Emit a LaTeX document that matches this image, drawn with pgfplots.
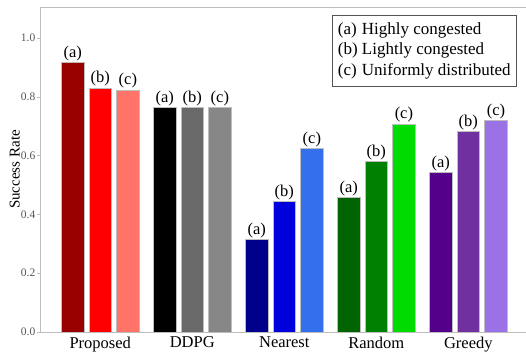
\documentclass[border=0pt]{standalone}
\usepackage{fontspec}
\setmainfont{Liberation Serif}
\usepackage{pgfplots}
\pgfplotsset{compat=1.18}

% bar fills: one shade family per method, (a)/(b)/(c) scenarios
\definecolor{pa}{HTML}{990000}
\definecolor{pb}{HTML}{FF0000}
\definecolor{pc}{HTML}{FF7369}
\definecolor{da}{HTML}{000000}
\definecolor{db}{HTML}{696969}
\definecolor{dc}{HTML}{878787}
\definecolor{na}{HTML}{00008B}
\definecolor{nb}{HTML}{0000DD}
\definecolor{nc}{HTML}{3470EE}
\definecolor{ra}{HTML}{006400}
\definecolor{rb}{HTML}{008000}
\definecolor{rc}{HTML}{00DC00}
\definecolor{ga}{HTML}{55008A}
\definecolor{gb}{HTML}{7030A0}
\definecolor{gc}{HTML}{9B72E6}
\definecolor{axisgray}{HTML}{BDBDBD}
\definecolor{ticktext}{HTML}{555555}

\pgfplotsset{
  onebar/.style={ybar, bar width=22.5pt, bar shift=0pt, draw=axisgray, line width=0.8pt},
}

\begin{document}
\begin{tikzpicture}
\begin{axis}[
  scale only axis,
  width=486pt, height=325pt,
  xmin=-0.655, xmax=4.627,
  ymin=0, ymax=1.105,
  axis x line=box, axis y line=left,
  axis line style={-, draw=axisgray, line width=0.8pt},
  xtick={0,1,2,3,4},
  xticklabels={Proposed,DDPG,Nearest,Random,Greedy},
  major x tick style={draw=none},
  xticklabel style={font=\fontsize{16.5}{16.5}\selectfont, inner sep=1.5pt},
  ytick={0,0.2,0.4,0.6,0.8,1.0},
  yticklabel style={font=\fontsize{11.5}{11.5}\selectfont, text=ticktext, inner sep=1.5pt},
  /pgf/number format/.cd, fixed, fixed zerofill, precision=1, assume math mode=true,
  /pgfplots/.cd,
  tick align=outside,
  major tick length=3pt,
  major y tick style={draw=axisgray},
  ylabel={Success Rate},
  ylabel style={font=\fontsize{15}{15}\selectfont, yshift=-4pt},
  every node near coord/.append style={font=\fontsize{16.5}{16.5}\selectfont, anchor=south, inner sep=1.5pt, text=black},
]
% Proposed
\addplot[onebar, fill=pa, nodes near coords={(a)}] coordinates {(-0.3,0.915)};
\addplot[onebar, fill=pb, nodes near coords={(b)}] coordinates {(0,0.829)};
\addplot[onebar, fill=pc, nodes near coords={(c)}] coordinates {(0.3,0.823)};
% DDPG
\addplot[onebar, fill=da, nodes near coords={(a)}] coordinates {(0.7,0.762)};
\addplot[onebar, fill=db, nodes near coords={(b)}] coordinates {(1,0.762)};
\addplot[onebar, fill=dc, nodes near coords={(c)}] coordinates {(1.3,0.762)};
% Nearest
\addplot[onebar, fill=na, nodes near coords={(a)}] coordinates {(1.7,0.314)};
\addplot[onebar, fill=nb, nodes near coords={(b)}] coordinates {(2,0.444)};
\addplot[onebar, fill=nc, nodes near coords={(c)}] coordinates {(2.3,0.623)};
% Random
\addplot[onebar, fill=ra, nodes near coords={(a)}] coordinates {(2.7,0.457)};
\addplot[onebar, fill=rb, nodes near coords={(b)}] coordinates {(3,0.579)};
\addplot[onebar, fill=rc, nodes near coords={(c)}] coordinates {(3.3,0.706)};
% Greedy
\addplot[onebar, fill=ga, nodes near coords={(a)}] coordinates {(3.7,0.542)};
\addplot[onebar, fill=gb, nodes near coords={(b)}] coordinates {(4,0.681)};
\addplot[onebar, fill=gc, nodes near coords={(c)}] coordinates {(4.3,0.719)};

% scenario key
\node[anchor=north east, draw=ticktext, line width=0.7pt, fill=white,
      inner xsep=6pt, inner ysep=5pt,
      font=\fontsize{17}{20.5}\selectfont]
  at (rel axis cs:0.9815,0.976)
  {\begin{tabular}{@{}l@{\ }l@{}}
   (a) & Highly congested\\
   (b) & Lightly congested\\
   (c) & Uniformly distributed
   \end{tabular}};
\end{axis}
\pgfresetboundingbox
\path ([xshift=-40pt,yshift=-19pt]current axis.south west) rectangle ([yshift=7pt]current axis.north east);
\end{tikzpicture}
\end{document}
